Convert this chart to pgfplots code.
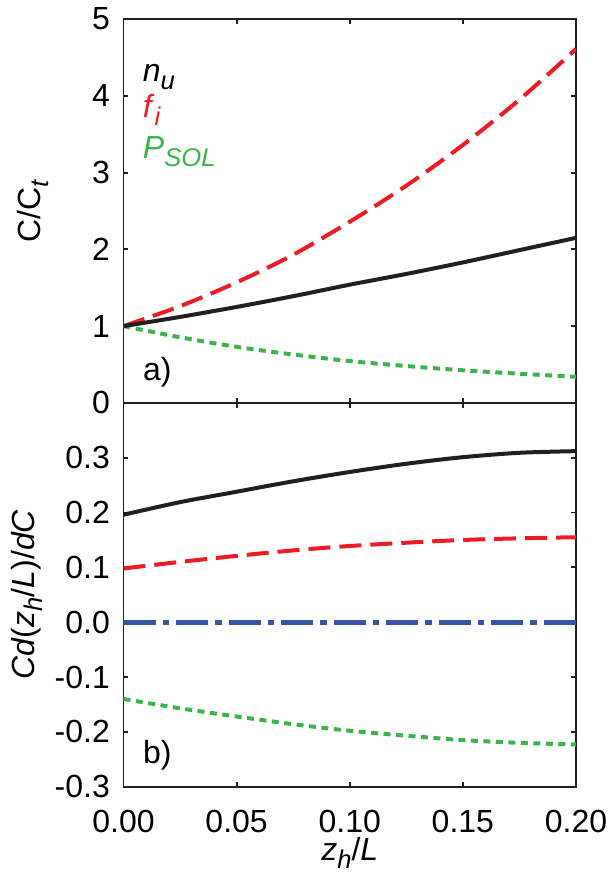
\documentclass[border=0pt]{standalone}
\usepackage{fontspec}
\setmainfont{Liberation Sans}
\usepackage{pgfplots}
\usepackage{pgfplotstable}
\pgfplotsset{compat=1.18}

\definecolor{mblack}{RGB}{35,31,32}
\definecolor{mred}{RGB}{237,28,36}
\definecolor{mgreen}{RGB}{57,181,74}
\definecolor{mblue}{RGB}{58,84,164}

% subscript in the style of the original (large, lowered)
\newcommand{\sub}[1]{\raisebox{-8pt}{\fontsize{25.6}{30}\selectfont #1}}

% panel a): C/C_t
\pgfplotstableread{
x      nu    fi    psol
0.000  1.00  1.00  1.000
0.025  1.12  1.26  0.855
0.050  1.25  1.57  0.730
0.075  1.39  1.93  0.630
0.100  1.54  2.36  0.545
0.125  1.68  2.83  0.480
0.150  1.83  3.36  0.425
0.175  1.99  3.95  0.380
0.200  2.15  4.61  0.340
}\toptab

% panel b): C d(z_h/L)/dC
\pgfplotstableread{
x      nu     fi     psol    zero
0.000  0.196  0.098  -0.140  0
0.025  0.219  0.110  -0.157  0
0.050  0.238  0.121  -0.172  0
0.075  0.257  0.131  -0.186  0
0.100  0.274  0.139  -0.198  0
0.125  0.289  0.145  -0.207  0
0.150  0.301  0.150  -0.215  0
0.175  0.309  0.153  -0.220  0
0.200  0.312  0.155  -0.223  0
}\bottab

\pgfplotsset{
  panel/.style={
    scale only axis,
    width=452.5pt, height=383.8pt,
    xmin=0, xmax=0.2,
    xtick={0,0.05,0.1,0.15,0.2},
    tick align=inside,
    major tick length=5pt,
    xtick pos=both, ytick pos=both,
    axis line style={line width=1.8pt, mblack},
    every tick/.style={line width=1.8pt, mblack},
    /pgf/number format/assume math mode=true,
    yticklabel style={inner sep=0pt, anchor=east, xshift=-13.5pt},
    xticklabel style={inner sep=0pt, anchor=north, yshift=-23pt},
    ylabel style={anchor=center, inner sep=0pt},
  },
}

\begin{document}
\fontsize{32}{38}\selectfont
\begin{tikzpicture}
\path[use as bounding box] (-123.5pt,-85.3pt) rectangle (490.5pt,786.7pt);

% top panel
\begin{axis}[panel,
  at={(0pt,383.8pt)}, anchor=south west,
  ymin=0, ymax=5, ytick={0,1,2,3,4,5},
  xticklabels={},
  ylabel={C/C\sub{\textit{t}}},
  ylabel style={at={(axis description cs:-0.201,0.5)}},
]
\addplot[mgreen, line width=4pt, dash pattern=on 7pt off 5.5pt, smooth] table[x=x,y=psol] {\toptab};
\addplot[mred, line width=4pt, dash pattern=on 22pt off 9pt, smooth] table[x=x,y=fi] {\toptab};
\addplot[mblack, line width=4pt, smooth] table[x=x,y=nu] {\toptab};
\node[anchor=base west, inner sep=0pt, text=black] at (axis cs:0.0085,4.184) {\textit{n}\sub{\textit{u}}};
\node[anchor=base west, inner sep=0pt, text=mred] at (axis cs:0.0085,3.712) {\textit{f}\sub{\textit{i}}};
\node[anchor=base west, inner sep=0pt, text=mgreen] at (axis cs:0.0085,3.188) {\textit{P}\sub{\textit{SOL}}};
\node[anchor=base west, inner sep=0pt, text=black] at (axis cs:0.0086,0.29) {a)};
\end{axis}

% bottom panel
\begin{axis}[panel,
  at={(0pt,0pt)}, anchor=south west,
  ymin=-0.3, ymax=0.4,
  ytick={-0.3,-0.2,-0.1,0,0.1,0.2,0.3},
  yticklabel style={/pgf/number format/.cd, fixed, fixed zerofill, precision=1},
  xticklabel style={/pgf/number format/.cd, fixed, fixed zerofill, precision=2},
  ylabel={\textit{Cd}(\textit{z}\sub{\textit{h}}/\textit{L})/\textit{dC}},
  ylabel style={at={(axis description cs:-0.2127,0.5)}},
  xlabel={\textit{z}\sub{\textit{h}}/\textit{L}},
  xlabel style={at={(axis description cs:0.5,0)}, anchor=base, inner sep=0pt, yshift=-74pt},
]
\addplot[mblue, line width=4.7pt, dash pattern=on 32pt off 7pt on 6.5pt off 7pt] table[x=x,y=zero] {\bottab};
\addplot[mgreen, line width=4pt, dash pattern=on 7pt off 5.5pt, smooth] table[x=x,y=psol] {\bottab};
\addplot[mred, line width=4pt, dash pattern=on 22pt off 9pt, smooth] table[x=x,y=fi] {\bottab};
\addplot[mblack, line width=4pt, smooth] table[x=x,y=nu] {\bottab};
\node[anchor=base west, inner sep=0pt, text=black] at (axis cs:0.0086,-0.257) {b)};
\end{axis}
\end{tikzpicture}
\end{document}
